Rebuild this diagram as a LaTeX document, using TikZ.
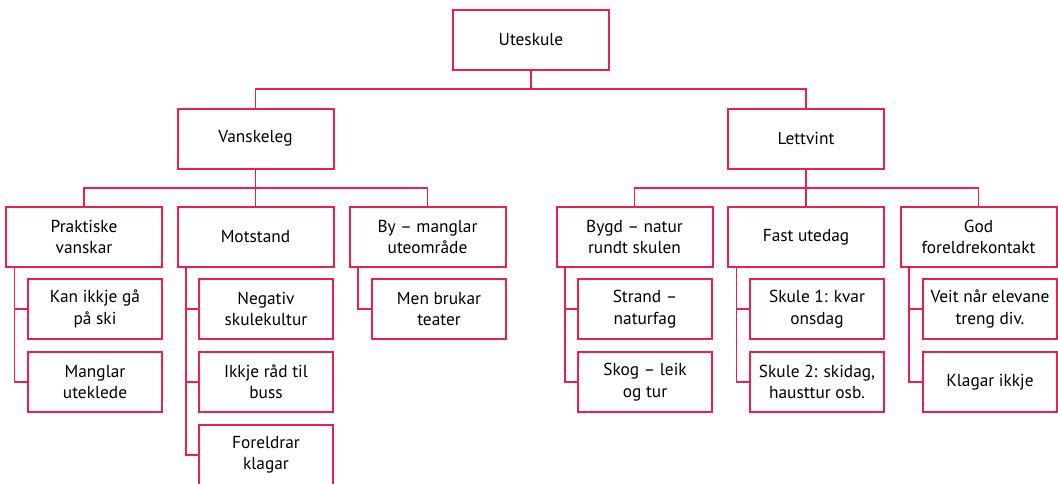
\documentclass[tikz,border=0pt]{standalone}
\usepackage{fontspec}
\setmainfont{PT Sans}
\usepackage{xcolor}
\usepackage{tikz}
\definecolor{crim}{RGB}{232,34,80}

\begin{document}
\begin{tikzpicture}[
    x=0.75pt, y=-0.75pt,
    topbox/.style={rectangle, draw=crim, line width=1.5pt, fill=white,
      minimum width=117pt, minimum height=45pt, inner sep=2pt,
      align=center, font=\fontsize{13}{16}\selectfont},
    subbox/.style={topbox, minimum width=100.5pt},
    link/.style={draw=crim, line width=1pt}
  ]
    \useasboundingbox (0,0) rectangle (1058,483);

    % ── Root and first level ─────────────────────────────────
    \node[topbox] (ute)   at (531,40)     {Uteskule};
    \node[topbox] (vansk) at (255.5,138.5) {Vanskeleg};
    \node[topbox] (lett)  at (806,138.5)   {Lettvint};

    % ── Second level ─────────────────────────────────────────
    \node[topbox] (prak) at (84,237)    {Praktiske\\vanskar};
    \node[topbox] (mot)  at (255.5,237) {Motstand};
    \node[topbox] (by)   at (427.5,237) {By -- manglar\\uteområde};
    \node[topbox] (bygd) at (634.5,237) {Bygd -- natur\\rundt skulen};
    \node[topbox] (fast) at (806,237)   {Fast utedag};
    \node[topbox] (god)  at (978.5,237) {God\\foreldrekontakt};

    % ── Third level ──────────────────────────────────────────
    \node[subbox] (ski)    at (95,309)  {Kan ikkje gå\\på ski};
    \node[subbox] (klede)  at (95,382)  {Manglar\\uteklede};
    \node[subbox] (neg)    at (266,309) {Negativ\\skulekultur};
    \node[subbox] (buss)   at (266,382) {Ikkje råd til\\buss};
    \node[subbox] (klag)   at (266,455) {Foreldrar\\klagar};
    \node[subbox] (teater) at (439,309) {Men brukar\\teater};
    \node[subbox] (strand) at (645,309) {Strand --\\naturfag};
    \node[subbox] (skog)   at (645,382) {Skog -- leik\\og tur};
    \node[subbox] (sk1)    at (817,309) {Skule 1: kvar\\onsdag};
    \node[subbox] (sk2)    at (817,382) {Skule 2: skidag,\\hausttur osb.};
    \node[subbox] (veit)   at (990,309) {Veit når elevane\\treng div.};
    \node[subbox] (ikkje)  at (990,382) {Klagar ikkje};

    % ── Tree links ───────────────────────────────────────────
    \draw[link] (ute.south) -- ++(0,18) -| (vansk.north);
    \draw[link] (ute.south) -- ++(0,18) -| (lett.north);
    \foreach \c in {prak,mot,by}
      \draw[link] (vansk.south) -- ++(0,18.5) -| (\c.north);
    \foreach \c in {bygd,fast,god}
      \draw[link] (lett.south) -- ++(0,18.5) -| (\c.north);

    % ── Side spines ──────────────────────────────────────────
    \foreach \p/\c in {prak/ski, prak/klede, mot/neg, mot/buss, mot/klag,
                       by/teater, bygd/strand, bygd/skog, fast/sk1, fast/sk2,
                       god/veit, god/ikkje}
      \draw[link] ([xshift=7pt]\p.south west) |- (\c.west);
  \end{tikzpicture}
\end{document}
